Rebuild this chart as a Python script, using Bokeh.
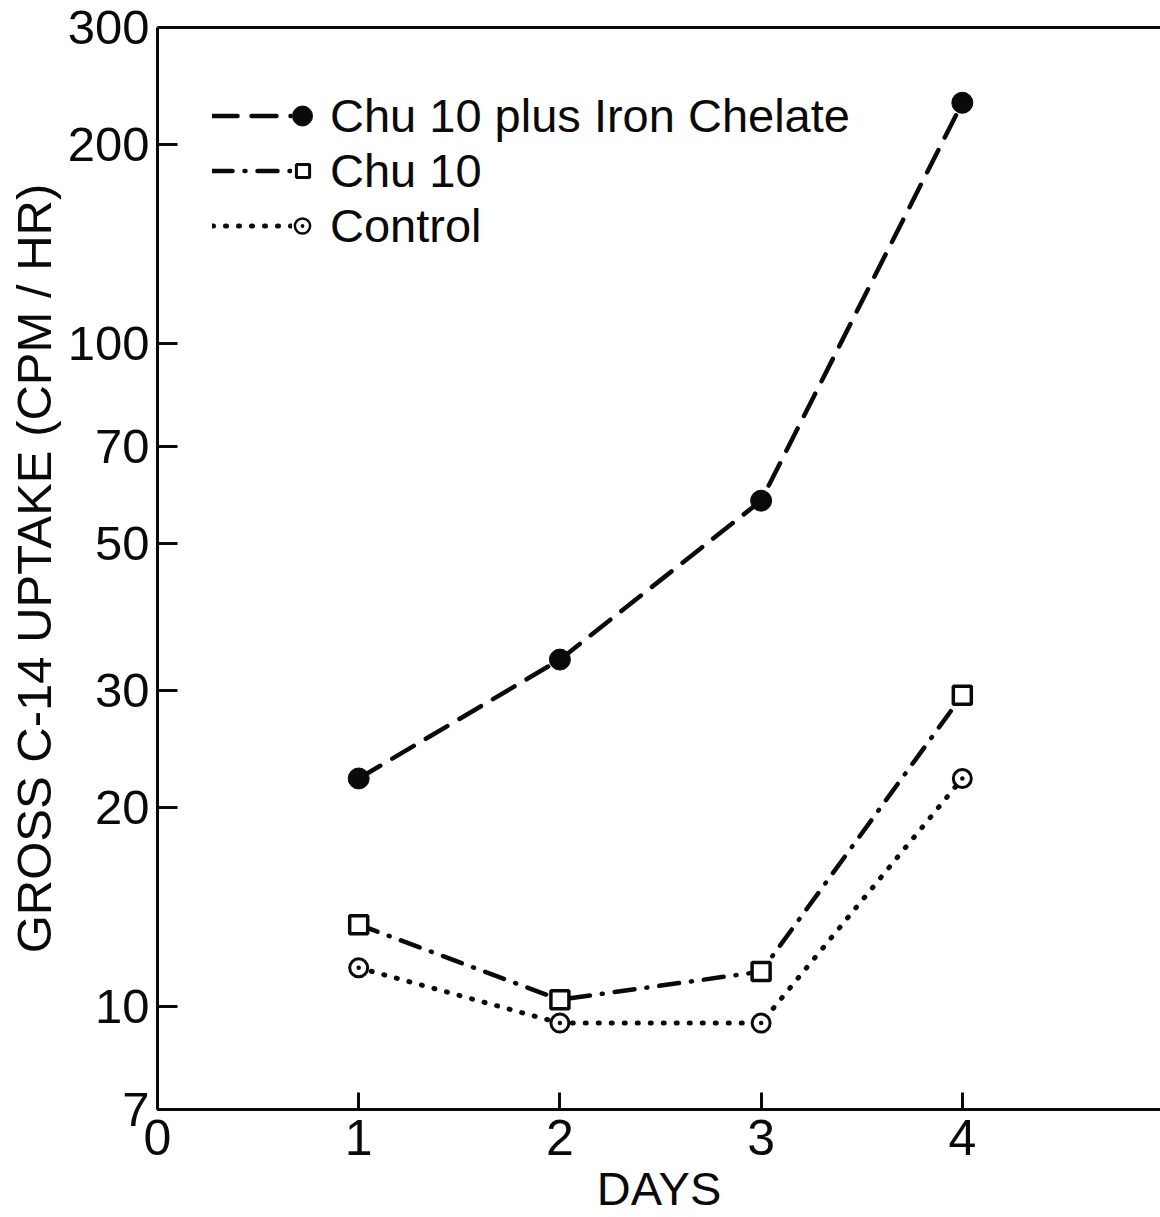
from bokeh.plotting import figure
from bokeh.models import (FixedTicker, LinearAxis, Legend, LegendItem, ColumnDataSource,
                          PrintfTickFormatter, Range1d)
from bokeh.embed import file_html
from bokeh.resources import INLINE

# ---- data ----
days = [1, 2, 3, 4]
chu10_iron = [22.1, 33.4, 58.0, 231.0]
chu10 = [13.3, 10.25, 11.3, 29.5]
control = [11.45, 9.45, 9.45, 22.1]

x_ticks = [0, 1, 2, 3, 4]
y_ticks = [7, 10, 20, 30, 50, 70, 100, 200, 300]

label_iron = "Chu 10 plus Iron Chelate"
label_chu = "Chu 10"
label_ctrl = "Control"

FONT = "Liberation Sans"
INK = "#0a0a0a"

TOP, BOTTOM = 27, 108

p = figure(width=1160, height=1217, output_backend="svg", toolbar_location=None,
           y_axis_type="log", x_range=Range1d(0, 4.985), y_range=Range1d(7, 300),
           min_border_left=157, min_border_top=TOP, min_border_bottom=BOTTOM,
           min_border_right=0)
p.outline_line_color = None
p.grid.visible = False
p.background_fill_color = "white"
p.border_fill_color = "white"

# axes
p.xaxis.ticker = FixedTicker(ticks=x_ticks)
p.yaxis.ticker = FixedTicker(ticks=y_ticks)
p.yaxis.formatter = PrintfTickFormatter(format="%d")
for ax in (p.xaxis[0], p.yaxis[0]):
    ax.axis_line_width = 3
    ax.axis_line_color = INK
    ax.major_tick_line_width = 3
    ax.major_tick_line_color = INK
    ax.major_tick_out = 0
    ax.minor_tick_in = 0
    ax.minor_tick_out = 0
    ax.major_label_text_font = FONT
    ax.major_label_text_color = INK
    ax.axis_label_text_font = FONT
    ax.axis_label_text_font_style = "normal"
    ax.axis_label_text_color = INK
p.xaxis.axis_label_text_font_size = "47px"
p.yaxis.axis_label_text_font_size = "49px"
p.xaxis.major_tick_in = 17
p.yaxis.major_tick_in = 20
p.xaxis.major_label_text_font_size = "50px"
p.yaxis.major_label_text_font_size = "49px"
p.xaxis.major_label_standoff = 10
p.yaxis.major_label_standoff = 8
p.xaxis.axis_label = "DAYS"
p.yaxis.axis_label = "GROSS C-14 UPTAKE (CPM / HR)"
p.xaxis.axis_label_standoff = 4
p.yaxis.axis_label_standoff = 4

top = LinearAxis(ticker=FixedTicker(ticks=[]), axis_line_width=3, axis_line_color=INK,
                 major_tick_in=0, major_tick_out=0, minor_tick_in=0, minor_tick_out=0,
                 major_label_text_font_size="0px")
p.add_layout(top, "above")

src = ColumnDataSource(dict(d=days, a=chu10_iron, b=chu10, c=control))

l_iron = p.line("d", "a", source=src, line_color=INK, line_width=4.5,
                line_dash="25 14", line_cap="round")
l_chu = p.line("d", "b", source=src, line_color=INK, line_width=4.5,
               line_dash="20 12 1 12", line_cap="round")
l_ctrl = p.line("d", "c", source=src, line_color=INK, line_width=5,
                line_dash="1 12", line_cap="round")

m_iron = p.scatter("d", "a", source=src, marker="circle", size=21,
                   fill_color=INK, line_color=INK)
m_chu = p.scatter("d", "b", source=src, marker="square", size=18,
                  fill_color="white", line_color=INK, line_width=3.5)
m_ctrl = p.scatter("d", "c", source=src, marker="circle_dot", size=18,
                   fill_color="white", line_color=INK, line_width=3)

# legend proxies (not drawn in the plot area)
pm_iron = p.scatter("d", "a", source=src, marker="circle",
                    fill_color=INK, line_color=INK, visible=False)
pm_chu = p.scatter("d", "b", source=src, marker="square",
                   fill_color="white", line_color=INK, line_width=3, visible=False)
pm_ctrl = p.scatter("d", "c", source=src, marker="circle_dot",
                    fill_color="white", line_color=INK, line_width=2.5, visible=False)

common = dict(background_fill_alpha=0, border_line_color=None, padding=0, margin=0,
              spacing=0, label_height=55, glyph_height=55,
              label_text_font=FONT, label_text_font_size="47px",
              label_text_color=INK, label_text_baseline="middle")

FRAME_H = 1217 - TOP - BOTTOM
ROW0 = 115 - TOP  # first legend row centre, from frame top
PITCH = 55

leg_lines = Legend(items=[LegendItem(label=label_iron, renderers=[l_iron]),
                          LegendItem(label=label_chu, renderers=[l_chu]),
                          LegendItem(label=label_ctrl, renderers=[l_ctrl])],
                   location=(55, FRAME_H - (ROW0 + 2 * PITCH + 27.5)),
                   glyph_width=80, label_standoff=38, **common)
p.add_layout(leg_lines)

for i, (r, gw) in enumerate([(pm_iron, 50), (pm_chu, 33), (pm_ctrl, 38)]):
    lg = Legend(items=[LegendItem(label=" ", renderers=[r])],
                location=(302 - 157 - gw / 2, FRAME_H - (ROW0 + i * PITCH + 27.5)),
                glyph_width=gw, label_standoff=0, label_width=1, **common)
    p.add_layout(lg)

open("out.html", "w").write(file_html(p, INLINE))
